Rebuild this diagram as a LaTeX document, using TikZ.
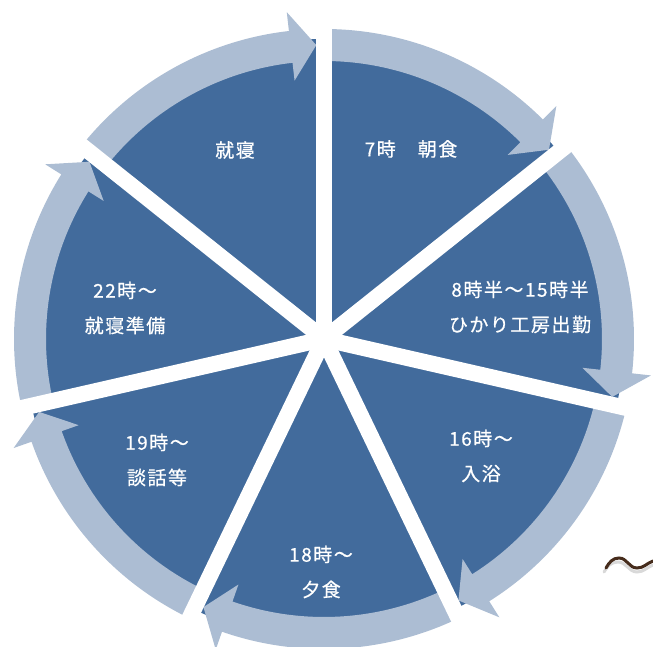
\documentclass[tikz,border=0pt]{standalone}
\usepackage{fontspec}
\newfontfamily\jpfont[LetterSpace=8,FakeBold=0.6]{Noto Sans CJK JP}
\definecolor{pieblue}{RGB}{66,107,156}
\definecolor{ringblue}{RGB}{172,189,211}
\definecolor{scanbrown}{RGB}{70,44,28}
\tikzset{
  daylabel/.style={text=white,align=center,font=\jpfont\fontsize{19}{35}\selectfont},
  ring/.style={fill=ringblue},
  gapline/.style={white,line width=16pt},
}
% curved ring arrow, #1 start angle, #2 end angle (clockwise)
\newcommand{\ringarrow}[2]{%
  \fill[ring] (#1:278) arc[start angle=#1, end angle={#2+6.5}, radius=278]
    -- ({#2+6.5}:260) -- ({#2+1.5}:294) -- ({#2+6.5}:329)
    -- ({#2+6.5}:310) arc[start angle={#2+6.5}, end angle=#1, radius=310] -- cycle;
}

\begin{document}
\begin{tikzpicture}[x=1pt, y=1pt]
\useasboundingbox (-324,-308) rectangle (329,339);

\fill[pieblue] (0,0) circle (300);

\ringarrow{90}{38.571}
\ringarrow{38.571}{-12.857}
\ringarrow{-12.857}{-64.286}
\ringarrow{-64.286}{-115.714}
\ringarrow{-115.714}{-167.143}
\ringarrow{192.857}{141.429}
\ringarrow{141.429}{90}

\draw[gapline] (0,0) -- (90:345);
\draw[gapline] (0,0) -- (38.571:345);
\draw[gapline] (0,0) -- (-12.857:345);
\draw[gapline] (0,0) -- (-64.286:345);
\draw[gapline] (0,0) -- (-115.714:345);
\draw[gapline] (0,0) -- (-167.143:345);
\draw[gapline] (0,0) -- (141.429:345);

\node[daylabel] (sleep) at (-89,189) {就寝};
\node[daylabel] (breakfast) at (87,190) {7時　朝食};
\node[daylabel] (work) at (196,32) {8時半～15時半\\ひかり工房出勤};
\node[daylabel] (bath) at (157,-117) {16時～\\入浴};
\node[daylabel] (dinner) at (-3,-233) {18時～\\夕食};
\node[daylabel] (talk) at (-167,-121) {19時～\\談話等};
\node[daylabel] (prep) at (-199,31) {22時～\\就寝準備};

% scan mark
\draw[white!85!black, line width=3pt, line cap=round] (280,-233) to[out=60,in=180] (294,-223)
  to[out=0,in=180] (313,-233) to[out=0,in=200] (329,-226);
\draw[scanbrown, line width=3pt, line cap=round] (282,-229) to[out=60,in=180] (295,-219)
  to[out=0,in=180] (313,-229) to[out=0,in=200] (329,-222);

\end{tikzpicture}
\end{document}
